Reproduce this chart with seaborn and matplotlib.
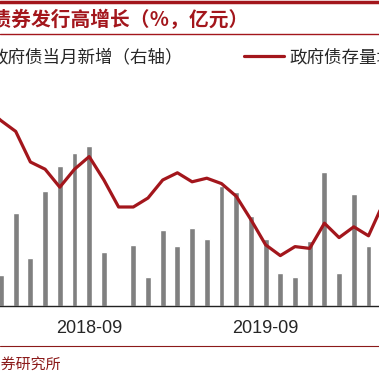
import numpy as np
import pandas as pd
import matplotlib
matplotlib.use("Agg")
import matplotlib.pyplot as plt
import seaborn as sns
from matplotlib.lines import Line2D
from matplotlib.patches import Patch

# ---- data ----
months = ["2018-02", "2018-03", "2018-04", "2018-05", "2018-06", "2018-07", "2018-08",
          "2018-09", "2018-10", "2018-11", "2018-12", "2019-01", "2019-02", "2019-03",
          "2019-04", "2019-05", "2019-06", "2019-07", "2019-08", "2019-09", "2019-10",
          "2019-11", "2019-12", "2020-01", "2020-02", "2020-03", "2020-04", "2020-05"]
new_issue = [3000, 3600, 10800, 5600, 13300, 16200, 17700,
             18500, 6200, 0, 7100, 3400, 8800, 6900,
             9000, 7800, 13900, 13200, 10400, 7800, 3800,
             3400, 7500, 15500, 3800, 13000, 6900, 15000]
stock_growth = [19.0, 18.3, 17.7, 16.0, 15.6, 14.6, 15.6,
                16.3, 15.0, 13.5, 13.5, 14.0, 15.0, 15.4,
                14.9, 15.1, 14.8, 14.1, 12.8, 11.4, 10.8,
                11.3, 11.2, 12.6, 11.8, 12.4, 11.9, 13.7]
tick_labels = ["2018-09", "2019-09"]
label_months = ["2018-09", "2019-09"]
bar_name = "政府债当月新增（右轴）"
line_name = "政府债存量增速（左轴）"
title = "政府债券发行高增长（％，亿元）"
source = "资料来源：Wind，证券研究所"

RED = "#A3161C"
GRAY = "#808080"

sns.set_style("white")
plt.rcParams["font.family"] = ["Noto Sans CJK SC", "DejaVu Sans"]

W, H = 379, 378
fig = plt.figure(figsize=(W / 100, H / 100), dpi=100)
ax = fig.add_axes([-21.05 / W, (H - 306) / H, 411.6 / W, 216 / H])
ax2 = ax.twinx()

sns.barplot(x=months, y=new_issue, ax=ax2, color=GRAY, saturation=1, width=0.4)
idx = np.arange(len(months))
sns.lineplot(x=idx, y=stock_growth, ax=ax, color=RED, lw=2.3)

ax.set_zorder(2)
ax2.set_zorder(1)
ax.patch.set_visible(False)

ax.set_xlim(-0.5, len(months) - 0.5)
ax.set_ylim(8, 20)
ax2.set_ylim(0, 25000)

pos = [months.index(m) for m in label_months]
ax.set_xticks(pos, tick_labels)
ax.set_xticks([p - 0.5 for p in pos], minor=True)
ax.tick_params(axis="x", which="major", length=0, pad=10, labelsize=13)
ax.tick_params(axis="x", which="minor", length=5, width=1, color="#222222", direction="out")
for lab in ax.get_xticklabels():
    lab.set_fontfamily(["Liberation Sans", "DejaVu Sans"])
ax.set_xlabel("")
ax2.set_xlabel("")
ax.set_ylabel("")
ax2.set_ylabel("")

for s in ["top", "left", "right"]:
    ax.spines[s].set_visible(False)
for s in ax2.spines.values():
    s.set_visible(False)
ax.spines["bottom"].set_color("#222222")
ax.spines["bottom"].set_linewidth(1)

# legend
handles = [Patch(color=GRAY), Line2D([], [], color=RED, lw=2.3)]
fig.legend(handles, [bar_name, line_name], ncol=2, loc="center left",
           bbox_to_anchor=(-55 / W, 1 - 57 / H), frameon=False, fontsize=12.6,
           handlelength=2.25, handletextpad=0.35, columnspacing=3.5,
           borderpad=0, borderaxespad=0)

# title, source, rules
fig.text(249 / W, 1 - 20 / H, title, ha="right", va="center", fontsize=14.2,
         color=RED, weight="bold")
fig.text(61 / W, 1 - 365 / H, source, ha="right", va="center", fontsize=10.8,
         color="#8B1A1A")
fig.add_artist(Line2D([0, 1], [1 - 1.5 / H] * 2, transform=fig.transFigure, color=RED, lw=2.5))
fig.add_artist(Line2D([0, 1], [1 - 34 / H] * 2, transform=fig.transFigure, color=RED, lw=1))
fig.add_artist(Line2D([0, 1], [1 - 346 / H] * 2, transform=fig.transFigure, color="#8B1A1A", lw=0.8))

fig.savefig("out.png", dpi=100)
